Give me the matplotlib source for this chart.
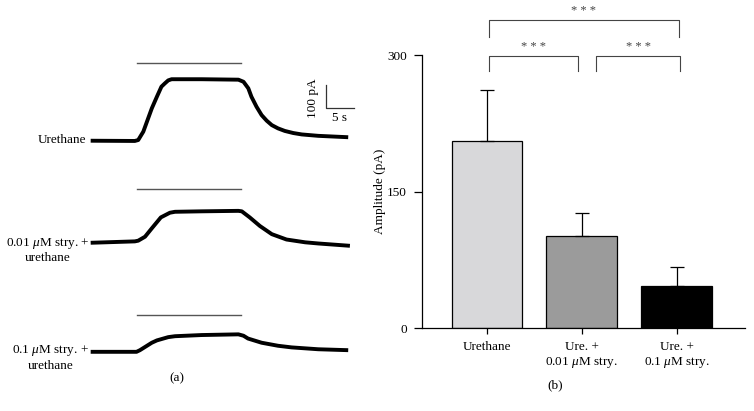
import numpy as np
import matplotlib
matplotlib.use("Agg")
import matplotlib.pyplot as plt

plt.rcParams['font.family'] = ['Liberation Serif', 'DejaVu Serif']
plt.rcParams['mathtext.fontset'] = 'custom'
plt.rcParams['mathtext.rm'] = 'Liberation Serif'
plt.rcParams['mathtext.it'] = 'Liberation Serif:italic'

# -----------------------------
# data
# -----------------------------

# panel (a): current traces, time (s) and current relative to baseline (pA)
t_ure = [0, 7.8, 8.4, 9.3, 10.8, 11.7, 12.5, 13.1, 13.7, 14.3, 19.6, 26.1, 27.0, 27.85,
         28.4, 29.3, 30.2, 31.1, 32.0, 33.1, 34.3, 35.8, 37.3, 40.2, 45.5]
i_ure = [0, -1, 3, 39, 139, 189, 232, 246, 259, 264, 264, 262, 253, 225,
         189, 146, 110, 86, 67, 53, 42, 33, 27, 21, 15]

t_low = [0, 7.8, 8.4, 9.6, 10.8, 12.4, 14.0, 14.9, 19.6, 26.1, 26.7, 28.1, 29.9, 32.0,
         34.6, 37.9, 40.2, 45.8]
i_low = [0, 6, 9, 26, 62, 109, 129, 133, 135, 137, 135, 109, 72, 37,
         14, 2, -3, -13]

t_high = [0, 8.1, 8.7, 10.8, 11.7, 13.7, 14.9, 19.6, 26.1, 27.0, 27.8, 30.2, 33.1, 35.5,
          40.2, 45.5]
i_high = [0, 0, 7, 39, 49, 63, 67, 72, 75, 69, 57, 39, 26, 19,
          11, 7]

trace_labels = ["Urethane", "0.01 $\\mu$M stry. +\nurethane", "0.1 $\\mu$M stry. +\nurethane"]
stim_on, stim_off = 8.2, 26.5

# panel (b): amplitude bars
groups = ["Urethane", "Ure. +\n0.01 $\\mu$M stry.", "Ure. +\n0.1 $\\mu$M stry."]
amp_mean = [205, 101, 46]
amp_sem = [56, 25, 21]
bar_colors = ["#d8d8da", "#9b9b9b", "#000000"]

# -----------------------------
# figure
# -----------------------------
W, H = 754, 411
fig = plt.figure(figsize=(W / 100, H / 100), dpi=100)
fs = 9.5


def fx(px):
    return px / W


def fy(py):
    return 1 - py / H


# panel (a)
ax_a = fig.add_axes([0, 0, 370 / W, 1])
ax_a.axis("off")
ax_a.set_xlim(-16.02, 49.35)
ax_a.set_ylim(-1160, 604)

offsets = [0, -438, -906]
stim_heights = [332, 230, 160]
traces = [(t_ure, i_ure), (t_low, i_low), (t_high, i_high)]
for (tt, ii), off, sh in zip(traces, offsets, stim_heights):
    ax_a.plot(tt, np.array(ii) + off, color="black", lw=2.8,
              solid_capstyle="butt", solid_joinstyle="round")
    ax_a.plot([stim_on, stim_off], [off + sh, off + sh], color="#555555", lw=1.0)

# scale bar 100 pA / 5 s
ax_a.plot([41.6, 41.6, 46.6], [239, 139, 139], color="#333333", lw=0.9)
fig.text(fx(313), fy(98), "100 pA", rotation=90, ha="center", va="center", fontsize=fs)
fig.text(fx(340), fy(118), "5 s", ha="center", va="center", fontsize=fs)

fig.text(fx(86), fy(140), trace_labels[0], ha="right", va="center", fontsize=fs)
fig.text(fx(89), fy(250), trace_labels[1], ha="right", va="center", fontsize=fs,
         multialignment="center", linespacing=1.2)
fig.text(fx(89), fy(357.5), trace_labels[2], ha="right", va="center", fontsize=fs,
         multialignment="center", linespacing=1.2)
fig.text(fx(177), fy(378), "(a)", ha="center", va="center", fontsize=fs)

# panel (b)
ax_b = fig.add_axes([fx(421.7), fy(328), (745 - 421.7) / W, (328 - 55) / H])
x = np.arange(len(groups))
ax_b.bar(x, amp_mean, width=0.74, color=bar_colors, edgecolor="black", linewidth=0.9,
         yerr=[np.zeros(len(amp_sem)), amp_sem], capsize=4.7,
         error_kw=dict(lw=0.9, capthick=0.9, ecolor="black"))
ax_b.set_xlim(-0.684, 2.72)
ax_b.set_ylim(0, 300)
ax_b.set_yticks([0, 150, 300])
ax_b.set_xticks(x)
ax_b.set_xticklabels(groups, fontsize=fs, linespacing=1.2)
ax_b.tick_params(axis="y", labelsize=fs, length=5.5, width=0.9, pad=5)
ax_b.tick_params(axis="x", length=4.5, width=0.9, pad=5)
ax_b.spines["top"].set_visible(False)
ax_b.spines["right"].set_visible(False)
ax_b.spines["left"].set_linewidth(0.9)
ax_b.spines["bottom"].set_linewidth(0.9)
ax_b.set_ylabel("Amplitude (pA)", fontsize=fs, labelpad=1)

# significance brackets
def bracket(x1, x2, y_top, y_leg, y_txt):
    ax_b.plot([x1, x1, x2, x2], [y_leg, y_top, y_top, y_leg], color="#444444",
              lw=0.8, clip_on=False)
    ax_b.text((x1 + x2) / 2, y_txt, "* * *", ha="center", va="center", fontsize=9,
              color="#444444", clip_on=False)

bracket(0.02, 0.96, 299, 282, 309)
bracket(1.15, 2.04, 299, 282, 309)
bracket(0.02, 2.02, 338, 320, 348)

fig.text(fx(555), fy(385), "(b)", ha="center", va="center", fontsize=fs)

fig.savefig("out.png", dpi=100)
